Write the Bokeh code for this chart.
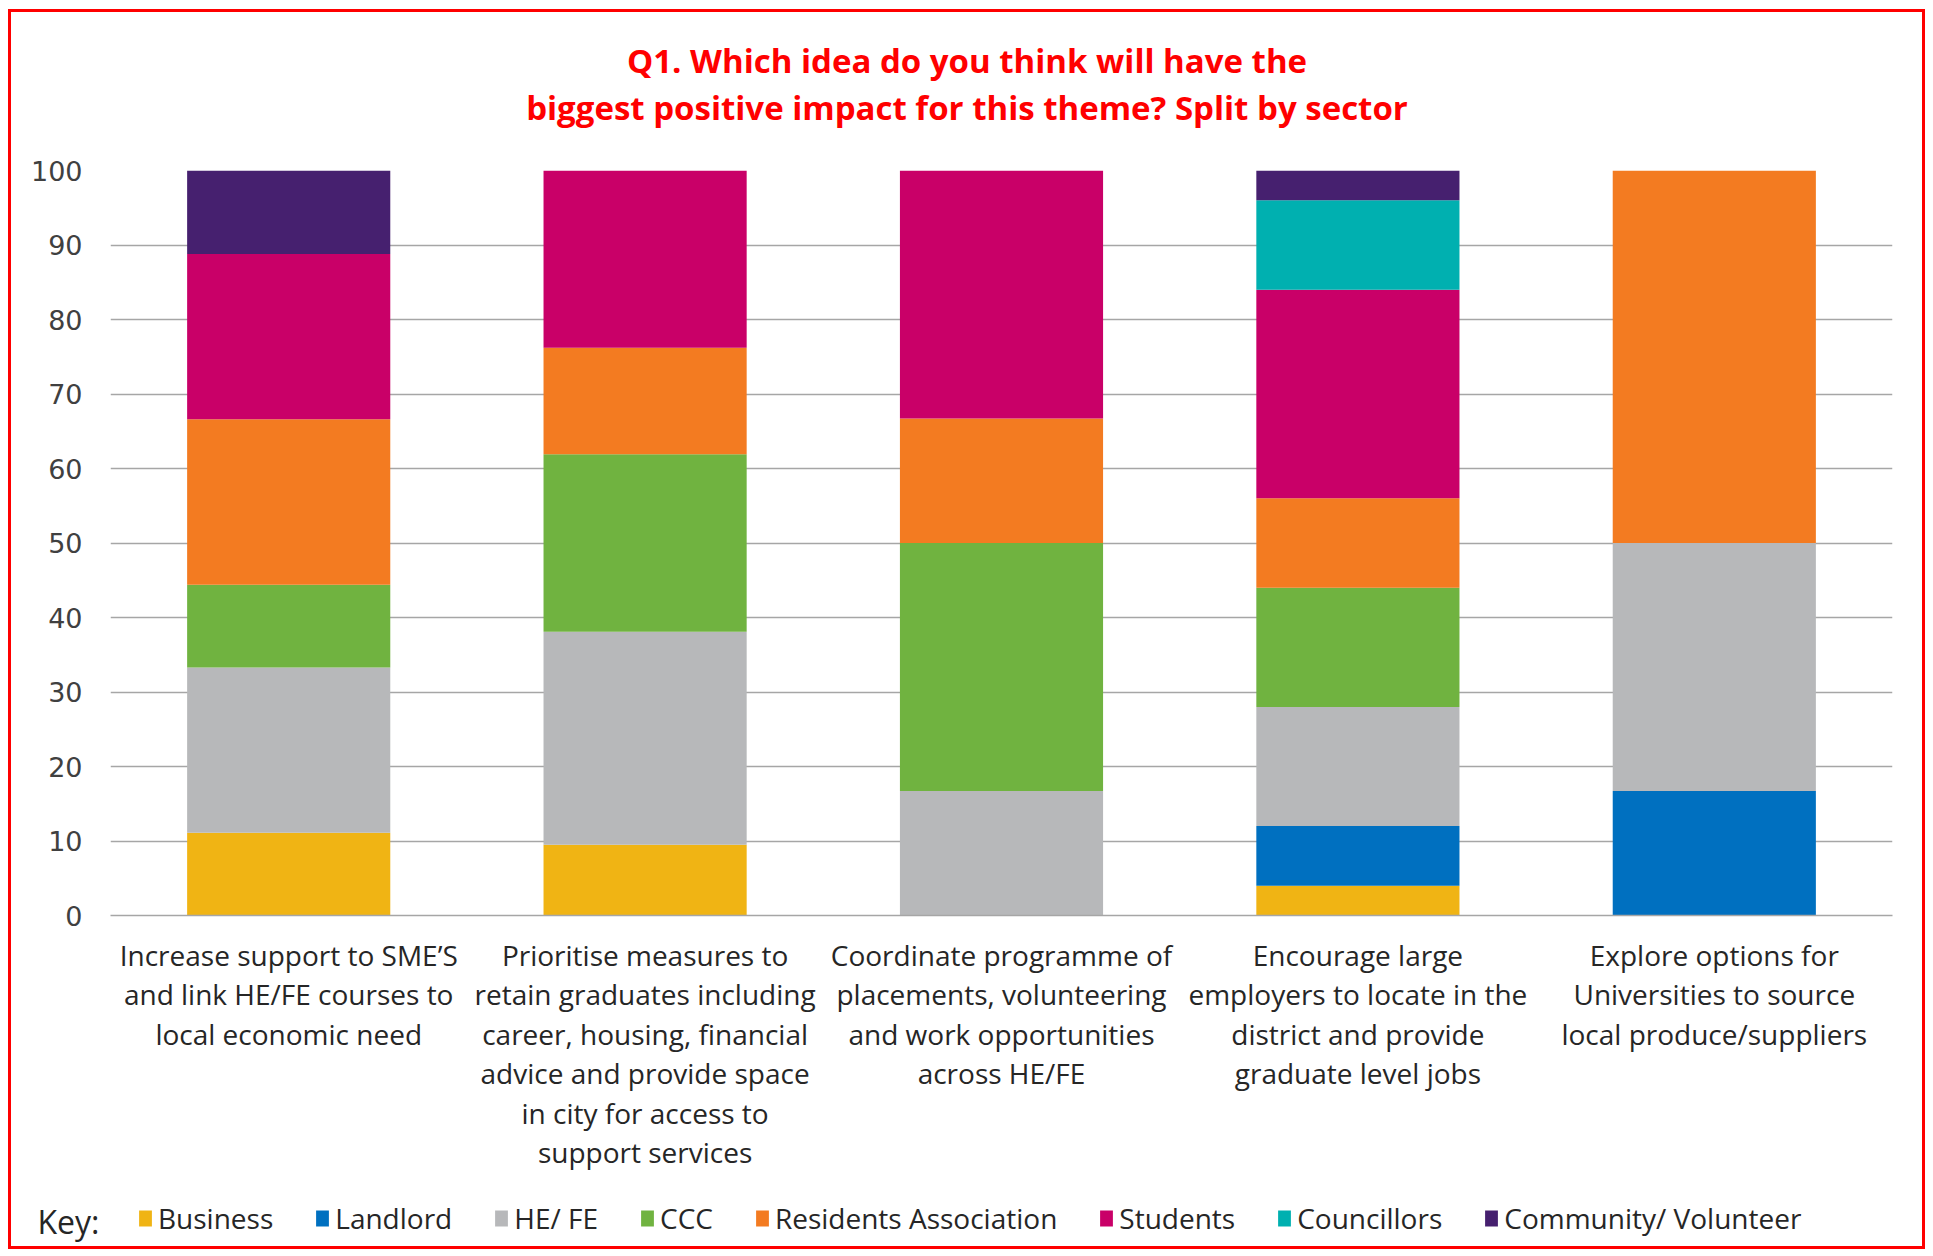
from bokeh.plotting import figure
from bokeh.models import (ColumnDataSource, FactorRange, Legend, LegendItem,
                          SingleIntervalTicker, Label, Range1d)
from bokeh.layouts import column
from bokeh.embed import file_html
from bokeh.resources import INLINE

categories = [
    "Increase support to SME\u2019S\nand link HE/FE courses to\nlocal economic need",
    "Prioritise measures to\nretain graduates including\ncareer, housing, financial\nadvice and provide space\nin city for access to\nsupport services",
    "Coordinate programme of\nplacements, volunteering\nand work opportunities\nacross HE/FE",
    "Encourage large\nemployers to locate in the\ndistrict and provide\ngraduate level jobs",
    "Explore options for\nUniversities to source\nlocal produce/suppliers",
]

sectors = ["Business", "Landlord", "HE/ FE", "CCC", "Residents Association",
           "Students", "Councillors", "Community/ Volunteer"]

business    = [11.1, 9.5, 0.0, 4.0, 0.0]
landlord    = [0.0, 0.0, 0.0, 8.0, 16.7]
he_fe       = [22.2, 28.6, 16.7, 16.0, 33.3]
ccc         = [11.1, 23.8, 33.3, 16.0, 0.0]
residents   = [22.2, 14.3, 16.7, 12.0, 50.0]
students    = [22.2, 23.8, 33.3, 28.0, 0.0]
councillors = [0.0, 0.0, 0.0, 12.0, 0.0]
community   = [11.2, 0.0, 0.0, 4.0, 0.0]

colors = ["#F0B414", "#0070C0", "#B7B8BA", "#70B340", "#F37B21",
          "#C90068", "#00B0B0", "#46206F"]

title_lines = ["Q1. Which idea do you think will have the",
               "biggest positive impact for this theme? Split by sector"]
key_label = "Key:"

W = 1911
TOP_H, MAIN_H, LEG_H = 143, 1035, 56

keys = ["business", "landlord", "he_fe", "ccc", "residents", "students", "councillors", "community"]
source = ColumnDataSource(data=dict(
    cat=categories, business=business, landlord=landlord, he_fe=he_fe, ccc=ccc,
    residents=residents, students=students, councillors=councillors, community=community))


def strip(height):
    f = figure(width=W, height=height, x_range=Range1d(0, W), y_range=Range1d(0, height),
               x_axis_location=None, y_axis_location=None, frame_align=False,
               output_backend="svg", toolbar_location=None,
               min_border_left=0, min_border_right=0, min_border_top=0, min_border_bottom=0)
    f.grid.visible = False
    f.outline_line_color = None
    return f


# ---- title strip ----
pt = strip(TOP_H)
for txt, yy in zip(title_lines, [TOP_H - 48, TOP_H - 95]):
    pt.add_layout(Label(x=W / 2, y=yy, text=txt, text_align="center", text_baseline="middle",
                        text_color="#FF0000", text_font="Open Sans", text_font_style="bold",
                        text_font_size="33px"))

# ---- main chart ----
p = figure(
    width=W, height=MAIN_H,
    x_range=FactorRange(factors=categories, range_padding=0),
    y_range=(0, 100), frame_align=False,
    output_backend="svg", toolbar_location=None,
    min_border_left=99, min_border_right=30, min_border_top=15, min_border_bottom=275,
)
renderers = p.vbar_stack(keys, x="cat", width=0.57, color=colors, line_color=None, source=source)

p.outline_line_color = None
p.xgrid.grid_line_color = None
p.ygrid.grid_line_color = "#A6A6A6"
p.ygrid.grid_line_width = 1.5

p.yaxis.ticker = SingleIntervalTicker(interval=10)
p.yaxis.axis_line_color = None
p.yaxis.major_tick_line_color = None
p.yaxis.minor_tick_line_color = None
p.yaxis.major_label_text_font = "DejaVu Sans"
p.yaxis.major_label_text_font_size = "27px"
p.yaxis.major_label_text_color = "#404040"
p.yaxis.major_label_standoff = 22

p.xaxis.axis_line_color = "#A6A6A6"
p.xaxis.axis_line_width = 1.5
p.xaxis.major_tick_line_color = None
p.xaxis.minor_tick_line_color = None
p.xaxis.major_label_text_font = "Open Sans"
p.xaxis.major_label_text_font_size = "28px"
p.xaxis.major_label_text_color = "#262626"
p.xaxis.major_label_text_line_height = 1.04
p.xaxis.major_label_standoff = 14

# ---- legend strip ----
pl = strip(LEG_H)
# zero-height swatch renderers, only used to draw the legend keys
leg_renderers = [pl.vbar(x=[0], top=[0], bottom=[0], width=0, fill_color=c, line_color=None)
                 for c in colors]
pl.add_layout(Label(x=26, y=LEG_H / 2 - 3, text=key_label, text_baseline="middle",
                    text_color="#262626", text_font="Open Sans", text_font_size="32px"))
items = [LegendItem(label=s, renderers=[r]) for s, r in zip(sectors, leg_renderers)]
legend = Legend(items=items, orientation="horizontal", location=(126, 9),
                padding=0, margin=0, spacing=41,
                glyph_width=16, glyph_height=20, label_standoff=5,
                label_text_font="Open Sans", label_text_font_size="28px",
                label_text_color="#262626",
                background_fill_alpha=0, border_line_color=None)
pl.add_layout(legend, "center")

layout = column(pt, p, pl, spacing=0)
layout.styles = {"border": "3px solid #FF0000", "margin-left": "8px", "margin-top": "9px"}

open("out.html", "w").write(file_html(layout, INLINE))
